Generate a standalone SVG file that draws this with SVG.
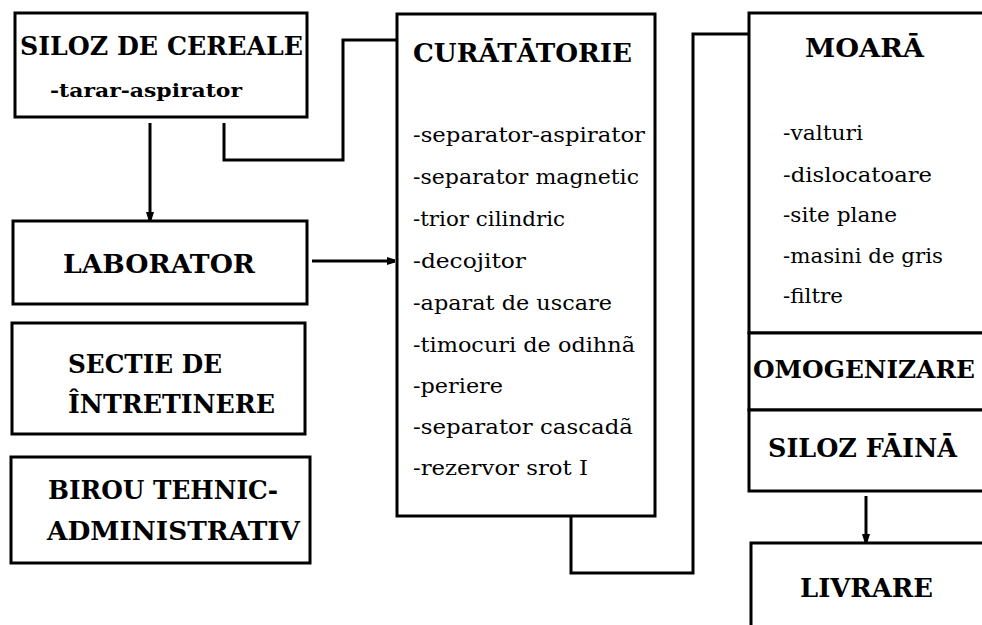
<svg xmlns="http://www.w3.org/2000/svg" width="982" height="625" viewBox="0 0 982 625">
<defs>
<style>
.box{fill:#fff;stroke:#000;stroke-width:3}
.ln{fill:none;stroke:#000;stroke-width:3}
text{font-family:'DejaVu Serif','Liberation Serif',serif;fill:#000}
.t{font-weight:bold;font-size:26px}
.s{font-weight:bold;font-size:19px}
.r{font-weight:normal;font-size:20px}
</style>
<marker id="ah" markerUnits="userSpaceOnUse" markerWidth="10" markerHeight="10" refX="8" refY="5" orient="auto">
<path d="M0,1 L8,3.5 L8,6.5 L0,9 z" fill="#000"/>
</marker>
</defs>
<rect width="982" height="625" fill="#fff"/>
<g id="siloz-cereale">
<rect class="box" x="15" y="13" width="292" height="104"/>
<text class="t" x="20" y="55" textLength="283" lengthAdjust="spacingAndGlyphs">SILOZ DE CEREALE</text>
<text class="s" x="50" y="97" textLength="192" lengthAdjust="spacingAndGlyphs">-tarar-aspirator</text>
</g>
<g id="laborator">
<rect class="box" x="13" y="221" width="294" height="83"/>
<text class="t" x="63" y="273" textLength="192" lengthAdjust="spacingAndGlyphs">LABORATOR</text>
</g>
<g id="sectie">
<rect class="box" x="12" y="323" width="293" height="111"/>
<text class="t" x="68" y="373" textLength="154" lengthAdjust="spacingAndGlyphs">SECTIE DE</text>
<text class="t" x="68" y="413" textLength="207" lengthAdjust="spacingAndGlyphs">ÎNTRETINERE</text>
</g>
<g id="birou">
<rect class="box" x="11" y="457" width="299" height="106"/>
<text class="t" x="48" y="499" textLength="230" lengthAdjust="spacingAndGlyphs">BIROU TEHNIC-</text>
<text class="t" x="47" y="540" textLength="253" lengthAdjust="spacingAndGlyphs">ADMINISTRATIV</text>
</g>
<g id="curatatorie">
<rect class="box" x="397" y="14" width="258" height="502"/>
<text class="t" x="413" y="62" textLength="219" lengthAdjust="spacingAndGlyphs">CURĀTĀTORIE</text>
<text class="r" x="413" y="142" textLength="232" lengthAdjust="spacingAndGlyphs">-separator-aspirator</text>
<text class="r" x="413" y="184" textLength="226" lengthAdjust="spacingAndGlyphs">-separator magnetic</text>
<text class="r" x="413" y="226" textLength="152" lengthAdjust="spacingAndGlyphs">-trior cilindric</text>
<text class="r" x="413" y="268" textLength="113" lengthAdjust="spacingAndGlyphs">-decojitor</text>
<text class="r" x="413" y="310" textLength="199" lengthAdjust="spacingAndGlyphs">-aparat de uscare</text>
<text class="r" x="413" y="352" textLength="222" lengthAdjust="spacingAndGlyphs">-timocuri de odihnã</text>
<text class="r" x="413" y="393" textLength="90" lengthAdjust="spacingAndGlyphs">-periere</text>
<text class="r" x="413" y="434" textLength="220" lengthAdjust="spacingAndGlyphs">-separator cascadã</text>
<text class="r" x="413" y="475" textLength="175" lengthAdjust="spacingAndGlyphs">-rezervor srot I</text>
</g>
<g id="moara">
<rect class="box" x="749" y="13" width="300" height="320"/>
<text class="t" x="805" y="57" textLength="119" lengthAdjust="spacingAndGlyphs">MOARĀ</text>
<text class="r" x="783" y="140" textLength="80" lengthAdjust="spacingAndGlyphs">-valturi</text>
<text class="r" x="783" y="182" textLength="149" lengthAdjust="spacingAndGlyphs">-dislocatoare</text>
<text class="r" x="783" y="222" textLength="114" lengthAdjust="spacingAndGlyphs">-site plane</text>
<text class="r" x="783" y="263" textLength="160" lengthAdjust="spacingAndGlyphs">-masini de gris</text>
<text class="r" x="783" y="303" textLength="60" lengthAdjust="spacingAndGlyphs">-filtre</text>
</g>
<g id="omogenizare">
<rect class="box" x="749" y="333" width="300" height="77"/>
<text class="t" style="font-size:25px" x="753" y="378" textLength="222" lengthAdjust="spacingAndGlyphs">OMOGENIZARE</text>
</g>
<g id="siloz-faina">
<rect class="box" x="749" y="410" width="300" height="81"/>
<text class="t" x="768" y="457" textLength="189" lengthAdjust="spacingAndGlyphs">SILOZ FĀINĀ</text>
</g>
<g id="livrare">
<rect class="box" x="751" y="543" width="300" height="100"/>
<text class="t" x="800" y="597" textLength="133" lengthAdjust="spacingAndGlyphs">LIVRARE</text>
</g>
<g id="connectors">
<line class="ln" x1="150" y1="123" x2="150" y2="220" marker-end="url(#ah)"/>
<polyline class="ln" points="224,123 224,160 343,160 343,40 397,40"/>
<line class="ln" x1="312" y1="261" x2="395" y2="261" marker-end="url(#ah)"/>
<polyline class="ln" points="571,516 571,573 693,573 693,34 749,34"/>
<line class="ln" x1="866" y1="496" x2="866" y2="542" marker-end="url(#ah)"/>
</g>
</svg>
